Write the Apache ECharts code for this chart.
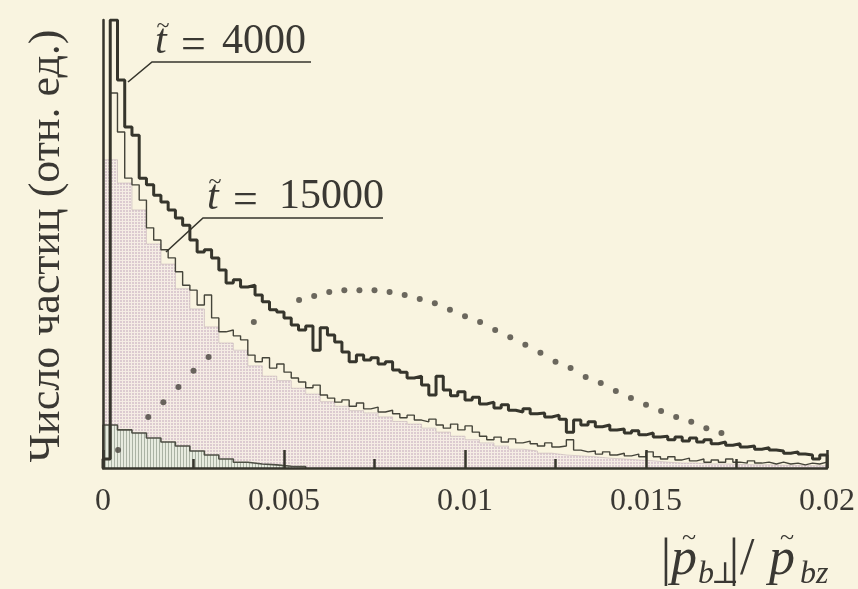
<!DOCTYPE html>
<html><head><meta charset="utf-8">
<script src="https://cdn.jsdelivr.net/npm/echarts@6/dist/echarts.min.js"></script>
<style>html,body{margin:0;padding:0;background:#f9f4e0;}#c{width:858px;height:589px;}</style>
</head><body><div id="c"></div>
<script>
// ---- data ----
const xTickLabels = ['0', '0.005', '0.01', '0.015', '0.02'];
const FINE_BIN = 0.0002;   // bin width of the two line histograms
const COARSE_BIN = 0.0004; // bin width of the shaded / hatched histograms
const DOT_STEP = 0.02 / 48; // spacing of the dotted theoretical curve

const hist4000 = [
  0.02, 1.0, 0.866, 0.761, 0.743, 0.647, 0.632, 0.609, 0.594, 0.576,
  0.558, 0.542, 0.509, 0.482, 0.487, 0.469, 0.442, 0.413, 0.420, 0.404,
  0.408, 0.386, 0.371, 0.353, 0.348, 0.335, 0.319, 0.308, 0.317, 0.263,
  0.313, 0.297, 0.281, 0.259, 0.237, 0.252, 0.241, 0.246, 0.232, 0.237,
  0.219, 0.214, 0.201, 0.205, 0.185, 0.163, 0.205, 0.174, 0.161, 0.170,
  0.152, 0.158, 0.143, 0.147, 0.134, 0.141, 0.129, 0.125, 0.132, 0.121,
  0.123, 0.114, 0.118, 0.109, 0.080, 0.107, 0.096, 0.103, 0.092, 0.096,
  0.085, 0.087, 0.078, 0.083, 0.074, 0.078, 0.069, 0.071, 0.063, 0.069,
  0.060, 0.067, 0.058, 0.063, 0.054, 0.058, 0.051, 0.054, 0.047, 0.049,
  0.042, 0.045, 0.040, 0.038, 0.033, 0.036, 0.031, 0.029, 0.020, 0.029
];
const hist15000 = [
  0.02, 0.837, 0.750, 0.647, 0.632, 0.598, 0.536, 0.509, 0.487, 0.469,
  0.438, 0.408, 0.397, 0.364, 0.386, 0.335, 0.304, 0.308, 0.295, 0.286,
  0.252, 0.237, 0.246, 0.223, 0.232, 0.214, 0.201, 0.192, 0.179, 0.185,
  0.163, 0.156, 0.147, 0.152, 0.138, 0.145, 0.132, 0.136, 0.125, 0.129,
  0.121, 0.112, 0.118, 0.107, 0.103, 0.109, 0.096, 0.089, 0.098, 0.085,
  0.094, 0.080, 0.071, 0.063, 0.069, 0.058, 0.065, 0.056, 0.060, 0.054,
  0.049, 0.056, 0.047, 0.049, 0.063, 0.040, 0.036, 0.038, 0.031, 0.036,
  0.029, 0.033, 0.027, 0.031, 0.025, 0.036, 0.025, 0.020, 0.025, 0.018,
  0.022, 0.016, 0.020, 0.013, 0.018, 0.013, 0.020, 0.013, 0.011, 0.016,
  0.011, 0.013, 0.009, 0.013, 0.009, 0.011, 0.007, 0.011, 0.009, 0.013
];
const histShaded = [
  0.688, 0.636, 0.576, 0.500, 0.455, 0.400, 0.355, 0.315, 0.279, 0.263,
  0.228, 0.205, 0.195, 0.178, 0.165, 0.148, 0.138, 0.128, 0.123, 0.114,
  0.104, 0.098, 0.089, 0.080, 0.071, 0.063, 0.056, 0.049, 0.042, 0.038,
  0.033, 0.029, 0.027, 0.025, 0.022, 0.020, 0.018, 0.016, 0.013, 0.011,
  0.011, 0.009, 0.009, 0.008, 0.007, 0.007, 0.006, 0.006, 0.005, 0.005
];
const histHatched = [
  0.096, 0.085, 0.078, 0.067, 0.058, 0.049, 0.038, 0.029, 0.020, 0.013,
  0.009, 0.007, 0.004, 0.003
];
// null = dot not visible in the picture (hidden behind the histogram lines)
const theoryDots = [
  0.040, null, 0.114, 0.147, 0.181, 0.217, 0.248, null, null, 0.326,
  null, null, 0.375, 0.384, 0.393, 0.397, 0.397, 0.397, 0.393, 0.386,
  0.377, 0.368, 0.353, 0.339, 0.326, 0.308, 0.292, 0.275, 0.257, 0.237,
  0.223, 0.203, 0.190, 0.172, 0.156, 0.141, 0.127, 0.114, 0.103, 0.089,
  0.078
];

// ---- helpers ----
function stepData(vals, w) {
  const d = [[0, 0]];
  vals.forEach((v, i) => d.push([+(i * w).toFixed(6), v]));
  const end = +(vals.length * w).toFixed(6);
  d.push([end, vals[vals.length - 1]]);
  d.push([end, 0]);
  return d;
}
function makePattern(w, h, draw) {
  const c = document.createElement('canvas');
  c.width = w; c.height = h;
  draw(c.getContext('2d'));
  return c;
}
const dotPattern = makePattern(3, 3, g => {
  g.fillStyle = '#f5ede4'; g.fillRect(0, 0, 3, 3);
  g.fillStyle = '#dccbd0'; g.fillRect(0, 0, 2, 2);
});
const hatchPattern = makePattern(3, 3, g => {
  g.fillStyle = '#e7ebdf'; g.fillRect(0, 0, 3, 3);
  g.fillStyle = '#aab2a4'; g.fillRect(0, 0, 1, 3);
});

const INK = '#36352c';
const TXT = '#3a3833';
const SERIF = '"Liberation Serif","DejaVu Serif",serif';

const chart = echarts.init(document.getElementById('c'), null, { renderer: 'canvas' });

function txt(x, y, s, font, align) {
  return { type: 'text', x: x, y: y, silent: true, z: 100,
    style: { text: s, font: font, fill: TXT, align: align || 'left', verticalAlign: 'middle' } };
}

const dotData = [];
theoryDots.forEach((v, i) => { if (v !== null) dotData.push([(i + 1) * DOT_STEP, v]); });

chart.setOption({
  animation: false,
  backgroundColor: '#f9f4e0',
  grid: { left: 103, right: 30, top: 20, bottom: 121 },
  xAxis: {
    type: 'value', min: 0, max: 0.02, interval: 0.005, z: 10,
    axisLine: { show: true, lineStyle: { color: INK, width: 2.5 } },
    axisTick: { show: true, inside: true, length: 18, lineStyle: { color: INK, width: 2.5 } },
    minorTick: { show: true, splitNumber: 2, length: 9, lineStyle: { color: INK, width: 2.5 } },
    splitLine: { show: false },
    minorSplitLine: { show: false },
    axisLabel: {
      margin: 18, color: TXT, fontFamily: SERIF, fontSize: 32,
      formatter: v => xTickLabels[Math.round(v / 0.005)]
    }
  },
  yAxis: {
    type: 'value', min: 0, max: 1, z: 10,
    axisLine: { show: true, lineStyle: { color: INK, width: 2.5 } },
    axisTick: { show: false }, axisLabel: { show: false }, splitLine: { show: false }
  },
  series: [
    { type: 'line', step: 'end', symbol: 'none', z: 2, data: stepData(histShaded, COARSE_BIN),
      lineStyle: { width: 0.6, color: '#c4b4b8' },
      areaStyle: { color: { image: dotPattern, repeat: 'repeat' }, opacity: 1 } },
    { type: 'line', step: 'end', symbol: 'none', z: 3, data: stepData(histHatched, COARSE_BIN),
      lineStyle: { width: 1.6, color: '#4d4f44' },
      areaStyle: { color: { image: hatchPattern, repeat: 'repeat' }, opacity: 1 } },
    { type: 'scatter', symbol: 'circle', symbolSize: 6, z: 4,
      data: dotData,
      itemStyle: { color: '#47443c' } },
    { type: 'line', step: 'end', symbol: 'none', z: 5, data: stepData(hist15000, FINE_BIN),
      lineStyle: { width: 1.4, color: '#45443a' } },
    { type: 'line', step: 'end', symbol: 'none', z: 6, data: stepData(hist4000, FINE_BIN),
      lineStyle: { width: 3, color: INK } }
  ],
  graphic: [
    { type: 'text', x: 47, y: 246, rotation: Math.PI / 2, silent: true,
      style: { text: 'Число частиц (отн. ед.)', font: '44px ' + SERIF, fill: TXT,
               align: 'center', verticalAlign: 'middle' } },
    // t = 4000
    txt(155, 42, 't', 'italic 42px ' + SERIF),
    txt(163, 27, '~', '24px ' + SERIF, 'center'),
    txt(181, 46, '=', '44px ' + SERIF),
    txt(222, 42, '4000', '42px ' + SERIF),
    { type: 'polyline', silent: true, z: 100,
      shape: { points: [[128, 82], [152, 62], [311, 62]] },
      style: { stroke: INK, lineWidth: 1.6, fill: null } },
    // t = 15000
    txt(207, 198, 't', 'italic 42px ' + SERIF),
    txt(215, 183, '~', '24px ' + SERIF, 'center'),
    txt(233, 201, '=', '44px ' + SERIF),
    txt(279, 197, '15000', '42px ' + SERIF),
    { type: 'polyline', silent: true, z: 100,
      shape: { points: [[166, 252], [203, 218], [383, 218]] },
      style: { stroke: INK, lineWidth: 1.6, fill: null } },
    // axis name |p_b⊥| / p_bz
    txt(666, 561, '|', '52px ' + SERIF, 'center'),
    txt(671, 560, 'p', 'italic 52px ' + SERIF),
    txt(689, 538, '~', '26px ' + SERIF, 'center'),
    txt(698, 575, 'b', 'italic 32px ' + SERIF),
    txt(711, 575, '⊥', '30px ' + SERIF),
    txt(734, 561, '|', '52px ' + SERIF, 'center'),
    txt(740, 560, '/', '52px ' + SERIF),
    txt(769, 560, 'p', 'italic 52px ' + SERIF),
    txt(787, 538, '~', '26px ' + SERIF, 'center'),
    txt(800, 575, 'bz', 'italic 32px ' + SERIF)
  ]
});
</script></body></html>
